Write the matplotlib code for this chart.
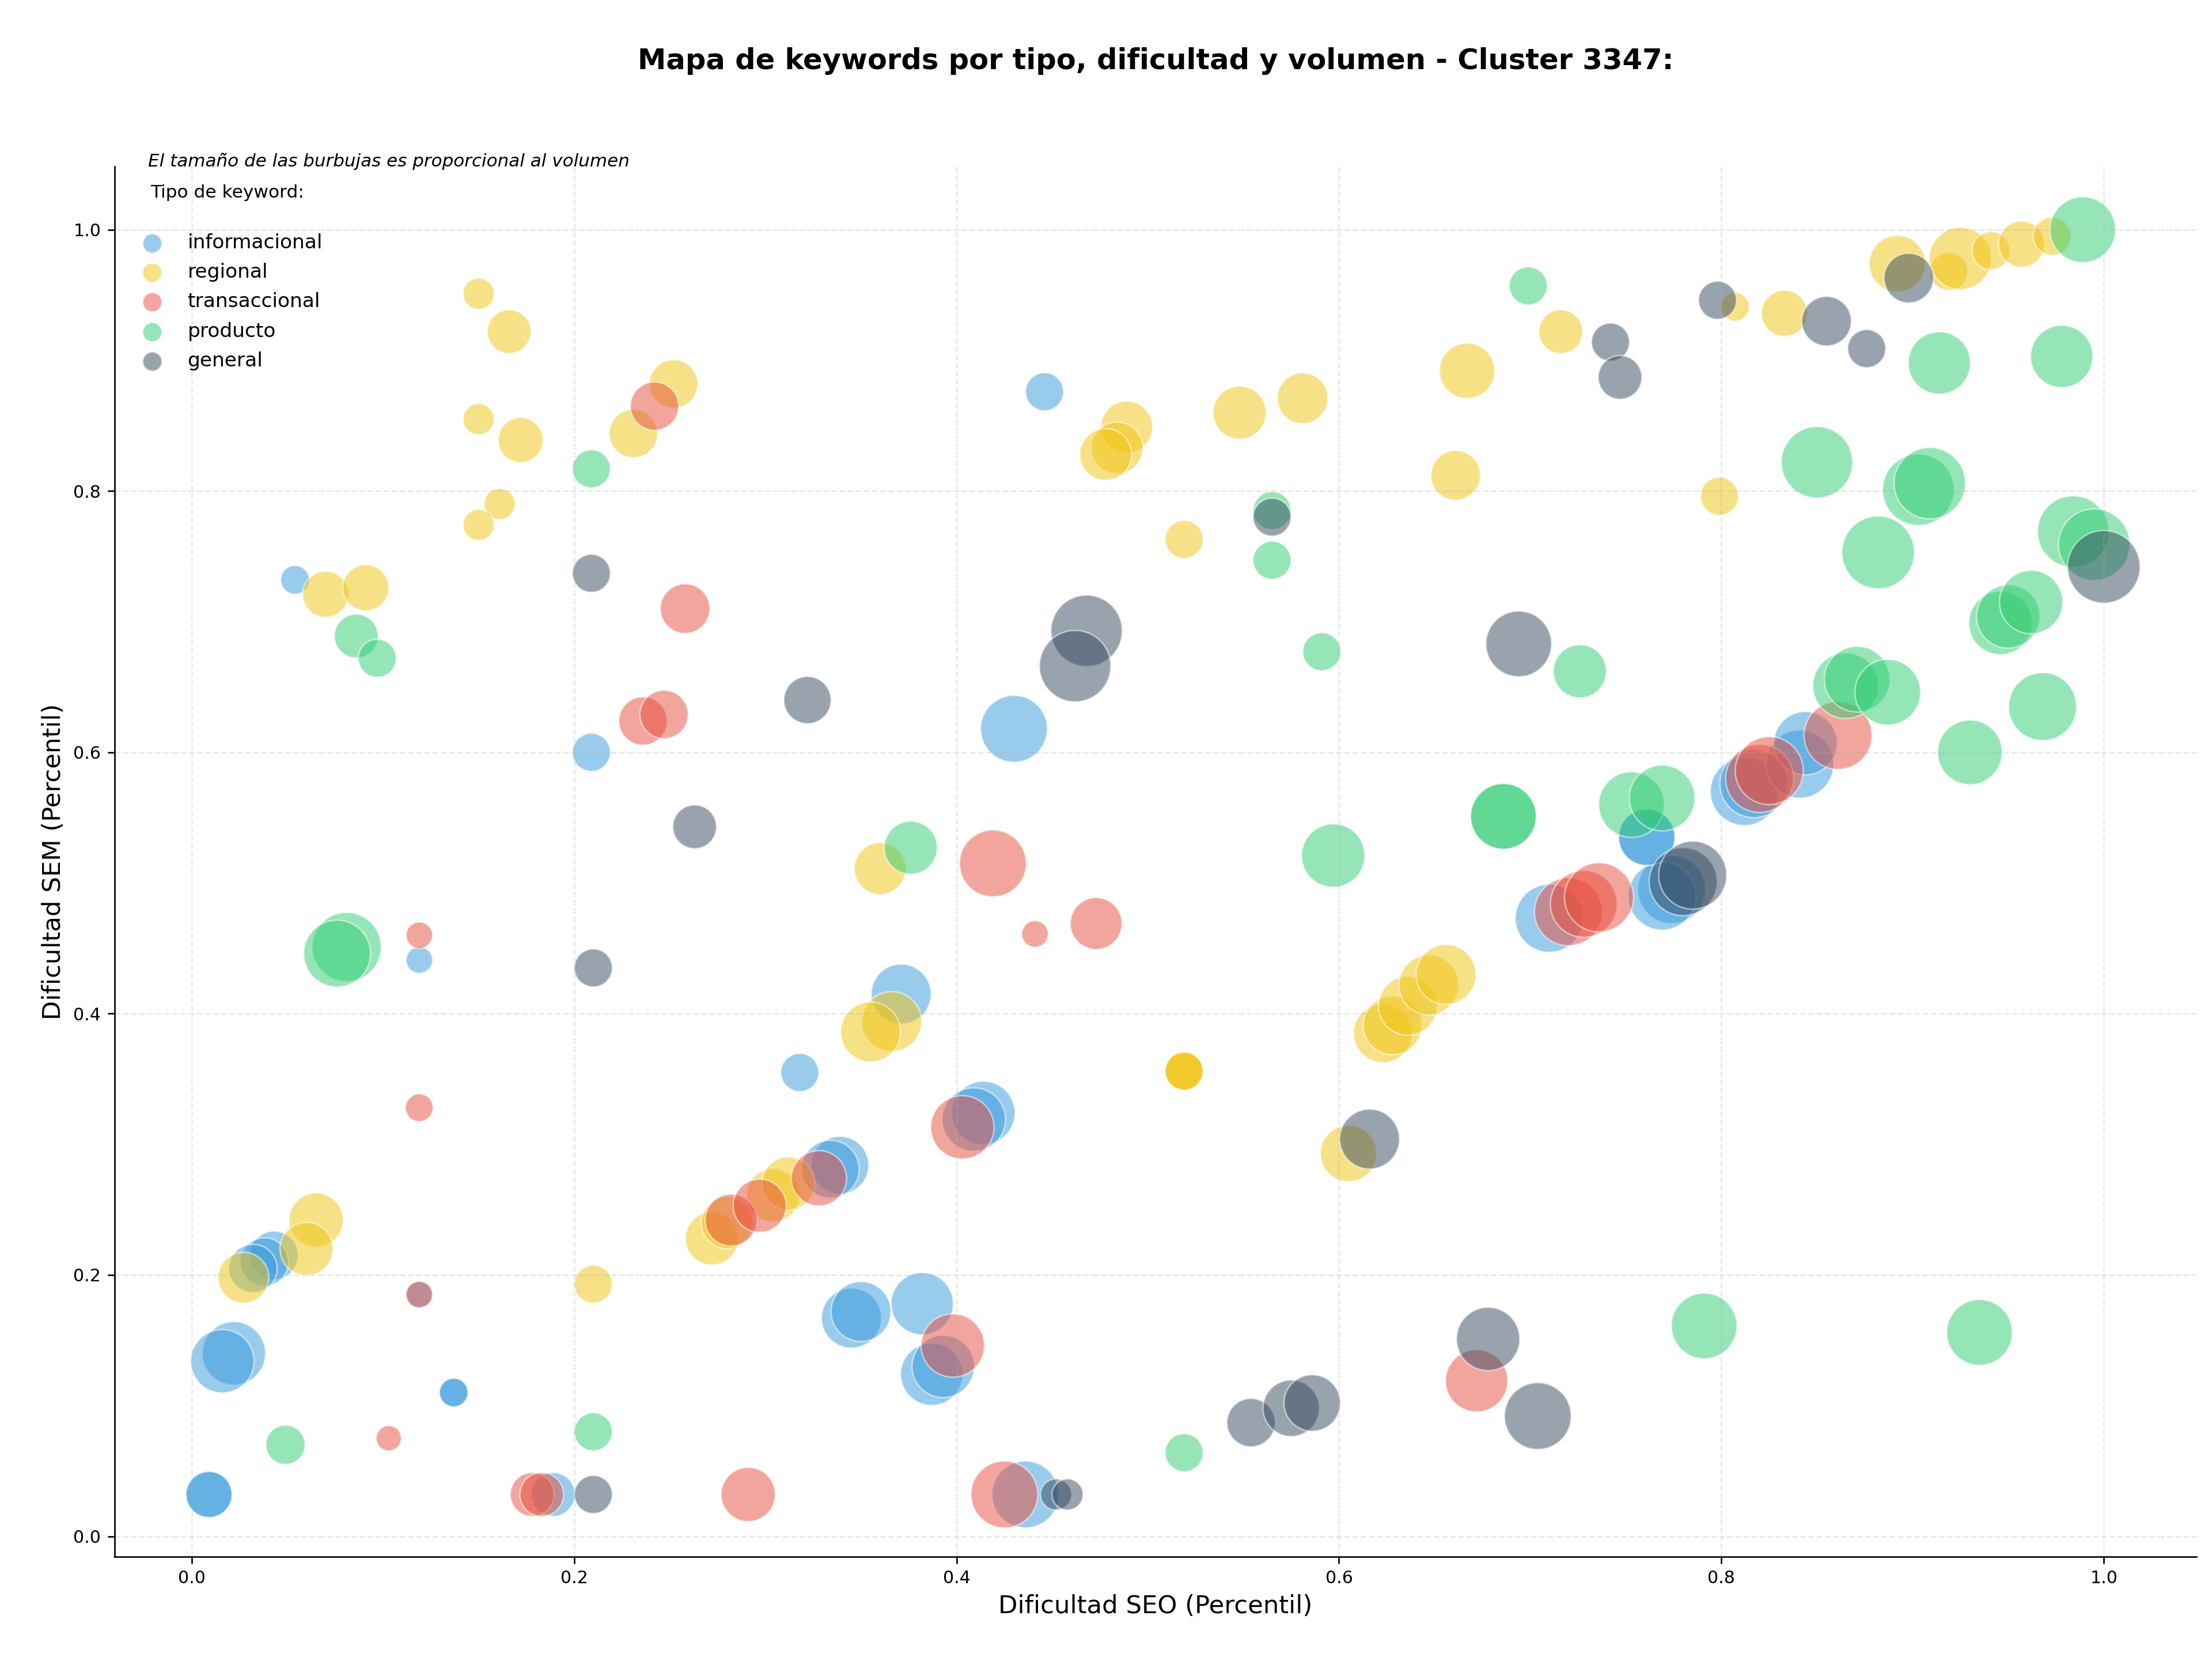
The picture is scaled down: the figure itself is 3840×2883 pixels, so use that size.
import matplotlib.pyplot as plt
import numpy as np

# categorias y colores
tipos = ['informacional', 'regional', 'transaccional', 'producto', 'general']
colores = ['#3498db', '#f1c40f', '#e74c3c', '#2ecc71', '#34495e']

# informacional
info_seo = [0.054, 0.119, 0.119, 0.137, 0.137, 0.009, 0.009, 0.022, 0.016, 0.043, 0.038, 0.032, 0.189,
            0.209, 0.318, 0.339, 0.334, 0.371, 0.345, 0.350, 0.382, 0.387, 0.393, 0.414, 0.409, 0.430,
            0.446, 0.436, 0.710, 0.774, 0.769, 0.761, 0.761, 0.812, 0.817, 0.841, 0.844]
info_sem = [0.732, 0.441, 0.185, 0.110, 0.110, 0.032, 0.032, 0.140, 0.134, 0.215, 0.210, 0.205, 0.032,
            0.600, 0.355, 0.284, 0.281, 0.415, 0.167, 0.172, 0.178, 0.124, 0.130, 0.324, 0.319, 0.618,
            0.876, 0.032, 0.473, 0.495, 0.490, 0.535, 0.535, 0.570, 0.576, 0.591, 0.607]
info_vol = [620, 530, 530, 620, 620, 1600, 1600, 3020, 3020, 1760, 1760, 1760, 1440,
            1090, 1090, 2500, 2500, 2700, 2700, 2700, 2920, 2920, 2920, 3020, 3020, 3360,
            1090, 3360, 3480, 3480, 3480, 2400, 2400, 3480, 3480, 3480, 3020]

# regional
reg_seo = [0.150, 0.166, 0.150, 0.172, 0.252, 0.231, 0.161, 0.150, 0.070, 0.091, 0.065, 0.060, 0.027,
           0.210, 0.272, 0.280, 0.304, 0.312, 0.360, 0.366, 0.355, 0.519, 0.519, 0.519, 0.489, 0.484,
           0.478, 0.548, 0.581, 0.667, 0.661, 0.519, 0.623, 0.628, 0.636, 0.647, 0.656, 0.605, 0.716,
           0.799, 0.807, 0.833, 0.892, 0.919, 0.925, 0.941, 0.957, 0.973]
reg_sem = [0.951, 0.922, 0.855, 0.839, 0.882, 0.844, 0.790, 0.774, 0.721, 0.726, 0.242, 0.220, 0.198,
           0.193, 0.228, 0.240, 0.261, 0.270, 0.511, 0.394, 0.386, 0.356, 0.356, 0.356, 0.849, 0.833,
           0.828, 0.860, 0.871, 0.892, 0.812, 0.763, 0.385, 0.391, 0.406, 0.422, 0.430, 0.293, 0.922,
           0.796, 0.941, 0.936, 0.974, 0.968, 0.978, 0.984, 0.989, 0.995]
reg_vol = [730, 1440, 730, 1520, 1760, 1760, 730, 730, 1600, 1600, 2210, 2120, 1940,
           1090, 2120, 2020, 2120, 2120, 2020, 2700, 2700, 1090, 1090, 1090, 2020, 2020,
           2020, 2120, 1940, 2300, 1850, 1090, 2600, 2600, 2600, 2700, 2700, 2400, 1440,
           1090, 620, 1600, 2400, 1090, 2920, 1090, 1600, 1090]

# transaccional
tra_seo = [0.119, 0.119, 0.119, 0.103, 0.178, 0.183, 0.291, 0.242, 0.258, 0.236, 0.247, 0.282, 0.297,
           0.328, 0.419, 0.441, 0.473, 0.403, 0.398, 0.425, 0.672, 0.720, 0.728, 0.736, 0.820, 0.825, 0.861]
tra_sem = [0.460, 0.328, 0.185, 0.075, 0.032, 0.032, 0.032, 0.865, 0.710, 0.624, 0.629, 0.242, 0.253,
           0.274, 0.515, 0.461, 0.469, 0.313, 0.146, 0.032, 0.119, 0.478, 0.484, 0.489, 0.580, 0.586, 0.613]
tra_vol = [530, 580, 530, 480, 1440, 1440, 2210, 1760, 1850, 1760, 1760, 2020, 2120,
           2300, 3360, 530, 2020, 3020, 3020, 3360, 2920, 3480, 3360, 3600, 3480, 3480, 3480]

# producto
pro_seo = [0.081, 0.076, 0.086, 0.097, 0.049, 0.210, 0.209, 0.376, 0.519, 0.565, 0.565, 0.591, 0.597,
           0.686, 0.686, 0.699, 0.726, 0.753, 0.769, 0.791, 0.850, 0.882, 0.903, 0.909, 0.865, 0.871,
           0.887, 0.914, 0.978, 0.989, 0.984, 0.995, 0.946, 0.950, 0.962, 0.968, 0.930, 0.935]
pro_sem = [0.451, 0.446, 0.689, 0.672, 0.070, 0.080, 0.817, 0.527, 0.064, 0.785, 0.747, 0.677, 0.521,
           0.551, 0.551, 0.957, 0.662, 0.560, 0.565, 0.161, 0.822, 0.753, 0.801, 0.806, 0.651, 0.656,
           0.646, 0.898, 0.903, 1.000, 0.769, 0.759, 0.699, 0.704, 0.715, 0.635, 0.600, 0.156]
pro_vol = [3600, 3360, 1440, 1090, 1160, 1090, 1090, 2120, 1090, 1090, 1090, 1090, 3020,
           3250, 3250, 1090, 2120, 3250, 3250, 3250, 3840, 3970, 3840, 3840, 3250, 3250,
           3250, 2920, 2920, 3250, 3840, 3840, 3020, 3020, 3020, 3480, 3140, 3250]

# general
gen_seo = [0.210, 0.210, 0.209, 0.263, 0.322, 0.468, 0.462, 0.452, 0.458, 0.565, 0.554, 0.575, 0.586,
           0.616, 0.678, 0.704, 0.694, 0.780, 0.785, 0.742, 0.747, 0.798, 0.855, 0.876, 0.898, 1.000]
gen_sem = [0.435, 0.032, 0.737, 0.543, 0.640, 0.693, 0.666, 0.032, 0.032, 0.780, 0.087, 0.098, 0.102,
           0.304, 0.151, 0.092, 0.683, 0.501, 0.506, 0.914, 0.887, 0.946, 0.930, 0.909, 0.963, 0.742]
gen_vol = [1090, 1090, 1090, 1440, 1680, 3840, 3840, 730, 730, 1090, 1760, 2400, 2400,
           2700, 3020, 3360, 3250, 3480, 3480, 1090, 1440, 1090, 1850, 1090, 1850, 3970]

datos = [(info_seo, info_sem, info_vol), (reg_seo, reg_sem, reg_vol), (tra_seo, tra_sem, tra_vol),
         (pro_seo, pro_sem, pro_vol), (gen_seo, gen_sem, gen_vol)]

fig, ax = plt.subplots(figsize=(16, 12.0125), dpi=240)
fig.subplots_adjust(left=0.0517, right=0.993, bottom=0.0629, top=0.8997)

for tipo, color, (x, y, v) in zip(tipos, colores, datos):
    ax.scatter(x, y, s=np.array(v) * 0.36, c=color, alpha=0.5,
               edgecolors='white', linewidths=0.8, label=tipo)

ax.set_xlim(-0.0405, 1.0485)
ax.set_ylim(-0.0155, 1.0483)
ax.grid(True, linestyle='--', alpha=0.3)
ax.spines['top'].set_visible(False)
ax.spines['right'].set_visible(False)
ax.tick_params(labelsize=9)

ax.set_xlabel('Dificultad SEO (Percentil)', fontsize=13)
ax.set_ylabel('Dificultad SEM (Percentil)', fontsize=13)
# titulo centrado sobre el eje
fig.suptitle('Mapa de keywords por tipo, dificultad y volumen - Cluster 3347:',
             fontsize=14.9, fontweight='bold', x=0.5224, y=0.9716)

ax.text(0.0163, 1.004, 'El tamaño de las burbujas es proporcional al volumen',
        transform=ax.transAxes, fontsize=9.3, style='italic', va='center')

leg = ax.legend(title='Tipo de keyword:\n', loc='upper left', frameon=False,
                fontsize=10.3, title_fontsize=9.4, labelspacing=0.536)
leg.get_title().set_linespacing(1.35)
for h in leg.legend_handles:
    h.set_sizes([100])

fig.savefig('out.png', dpi=240)
